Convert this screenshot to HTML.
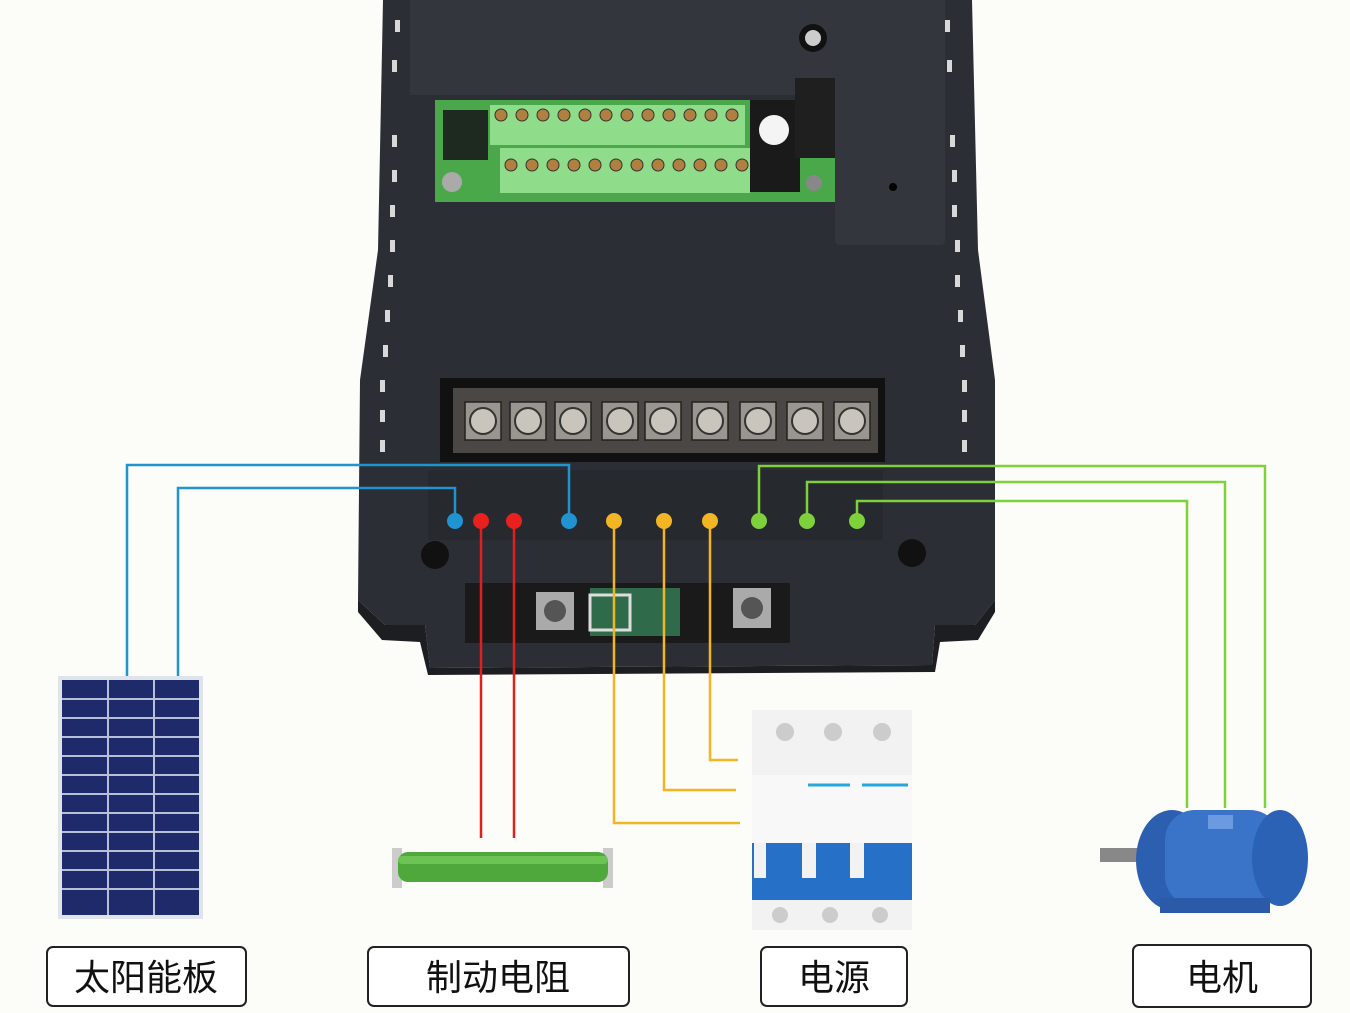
<!DOCTYPE html>
<html><head><meta charset="utf-8"><style>
html,body{margin:0;padding:0;background:#fcfcf9;}
svg{display:block}
.lbl{font-family:"Liberation Sans","Noto Sans CJK SC",sans-serif;font-size:36px;fill:#111;}
</style></head><body>
<svg width="1350" height="1013" viewBox="0 0 1350 1013" xmlns="http://www.w3.org/2000/svg">
<rect width="1350" height="1013" fill="#fcfcf9"/>
<!-- device body -->
<path d="M383 0 L972 0 L978 250 L995 380 L995 600 L975 625 L935 625 L932 665 L430 668 L425 625 L385 625 L358 600 L360 380 L378 250 Z" fill="#2b2e34"/>
<path d="M358 600 L385 625 L425 625 L430 668 L932 665 L935 625 L975 625 L995 600 L995 612 L978 640 L940 642 L935 672 L428 675 L420 642 L382 640 L358 612 Z" fill="#1c1e22"/>
<rect x="410" y="0" width="535" height="95" fill="#33363c"/>
<rect x="835" y="75" width="110" height="170" rx="4" fill="#33363c"/>
<circle cx="813" cy="38" r="14" fill="#111"/><circle cx="813" cy="38" r="8" fill="#ccc"/>
<circle cx="893" cy="187" r="4" fill="#000"/>
<!-- vents -->
<g fill="#d8d8d8">
<rect x="395" y="20" width="5" height="12"/><rect x="392" y="60" width="5" height="12"/><rect x="392" y="135" width="5" height="12"/><rect x="392" y="170" width="5" height="12"/><rect x="390" y="205" width="5" height="12"/><rect x="390" y="240" width="5" height="12"/><rect x="388" y="275" width="5" height="12"/><rect x="385" y="310" width="5" height="12"/><rect x="383" y="345" width="5" height="12"/><rect x="380" y="380" width="5" height="12"/><rect x="380" y="410" width="5" height="12"/><rect x="380" y="440" width="5" height="12"/>
<rect x="945" y="20" width="5" height="12"/><rect x="947" y="60" width="5" height="12"/><rect x="950" y="135" width="5" height="12"/><rect x="952" y="170" width="5" height="12"/><rect x="952" y="205" width="5" height="12"/><rect x="955" y="240" width="5" height="12"/><rect x="955" y="275" width="5" height="12"/><rect x="958" y="310" width="5" height="12"/><rect x="960" y="345" width="5" height="12"/><rect x="962" y="380" width="5" height="12"/><rect x="962" y="410" width="5" height="12"/><rect x="962" y="440" width="5" height="12"/>
</g>
<!-- green PCB -->
<rect x="435" y="100" width="400" height="102" fill="#4aa84a"/>
<rect x="490" y="105" width="255" height="40" fill="#8fdd8a"/>
<rect x="500" y="148" width="250" height="45" fill="#8fdd8a"/>
<g fill="#b08040" stroke="#333" stroke-width="1">
<circle cx="501" cy="115" r="6"/><circle cx="522" cy="115" r="6"/><circle cx="543" cy="115" r="6"/><circle cx="564" cy="115" r="6"/><circle cx="585" cy="115" r="6"/><circle cx="606" cy="115" r="6"/><circle cx="627" cy="115" r="6"/><circle cx="648" cy="115" r="6"/><circle cx="669" cy="115" r="6"/><circle cx="690" cy="115" r="6"/><circle cx="711" cy="115" r="6"/><circle cx="732" cy="115" r="6"/>
<circle cx="511" cy="165" r="6"/><circle cx="532" cy="165" r="6"/><circle cx="553" cy="165" r="6"/><circle cx="574" cy="165" r="6"/><circle cx="595" cy="165" r="6"/><circle cx="616" cy="165" r="6"/><circle cx="637" cy="165" r="6"/><circle cx="658" cy="165" r="6"/><circle cx="679" cy="165" r="6"/><circle cx="700" cy="165" r="6"/><circle cx="721" cy="165" r="6"/><circle cx="742" cy="165" r="6"/>
</g>
<rect x="443" y="110" width="45" height="50" fill="#1e2a20"/>
<circle cx="452" cy="182" r="10" fill="#aaa"/>
<rect x="750" y="100" width="50" height="92" fill="#1a1a1a"/>
<rect x="795" y="78" width="40" height="80" fill="#1f1f1f"/>
<circle cx="774" cy="130" r="15" fill="#f4f4f4"/>
<circle cx="814" cy="183" r="8" fill="#888"/>
<!-- power terminal block -->
<rect x="440" y="378" width="445" height="84" fill="#111"/>
<rect x="453" y="388" width="425" height="65" fill="#4a4744"/>
<g fill="#9a958e" stroke="#222" stroke-width="1.5">
<rect x="465" y="402" width="36" height="38"/><rect x="510" y="402" width="36" height="38"/><rect x="555" y="402" width="36" height="38"/><rect x="602" y="402" width="36" height="38"/><rect x="645" y="402" width="36" height="38"/><rect x="692" y="402" width="36" height="38"/><rect x="740" y="402" width="36" height="38"/><rect x="787" y="402" width="36" height="38"/><rect x="834" y="402" width="36" height="38"/>
</g>
<g fill="#c9c4bc" stroke="#333" stroke-width="2">
<circle cx="483" cy="421" r="13"/><circle cx="528" cy="421" r="13"/><circle cx="573" cy="421" r="13"/><circle cx="620" cy="421" r="13"/><circle cx="663" cy="421" r="13"/><circle cx="710" cy="421" r="13"/><circle cx="758" cy="421" r="13"/><circle cx="805" cy="421" r="13"/><circle cx="852" cy="421" r="13"/>
</g>
<rect x="428" y="470" width="455" height="70" fill="#26292e"/>
<circle cx="435" cy="555" r="14" fill="#111"/><circle cx="912" cy="553" r="14" fill="#111"/>
<!-- lower part -->
<rect x="465" y="583" width="325" height="60" fill="#1a1a1a"/>
<rect x="590" y="588" width="90" height="48" fill="#2f6a4a"/>
<rect x="536" y="592" width="38" height="38" fill="#aaa"/><circle cx="555" cy="611" r="11" fill="#555"/>
<rect x="733" y="588" width="38" height="40" fill="#aaa"/><circle cx="752" cy="608" r="11" fill="#555"/>
<rect x="590" y="595" width="40" height="35" fill="none" stroke="#ddd" stroke-width="3"/>
<!-- wires -->
<g fill="none" stroke-width="2.5">
<polyline points="569,521 569,465 127,465 127,678" stroke="#1f94d0"/>
<polyline points="455,521 455,488 178,488 178,678" stroke="#1f94d0"/>
<polyline points="481,521 481,838" stroke="#e02020"/>
<polyline points="514,521 514,838" stroke="#e02020"/>
<polyline points="614,521 614,823 740,823" stroke="#f2b624"/>
<polyline points="664,521 664,790 736,790" stroke="#f2b624"/>
<polyline points="710,521 710,760 738,760" stroke="#f2b624"/>
<polyline points="759,521 759,466 1265,466 1265,808" stroke="#7fd13b"/>
<polyline points="807,521 807,482 1225,482 1225,808" stroke="#7fd13b"/>
<polyline points="857,521 857,501 1187,501 1187,808" stroke="#7fd13b"/>
</g>
<g>
<circle cx="455" cy="521" r="8" fill="#1f94d0"/><circle cx="481" cy="521" r="8" fill="#e8201e"/><circle cx="514" cy="521" r="8" fill="#e8201e"/><circle cx="569" cy="521" r="8" fill="#1f94d0"/>
<circle cx="614" cy="521" r="8" fill="#f2b624"/><circle cx="664" cy="521" r="8" fill="#f2b624"/><circle cx="710" cy="521" r="8" fill="#f2b624"/>
<circle cx="759" cy="521" r="8" fill="#7fd13b"/><circle cx="807" cy="521" r="8" fill="#7fd13b"/><circle cx="857" cy="521" r="8" fill="#7fd13b"/>
</g>
<!-- solar panel -->
<rect x="58" y="676" width="145" height="243" fill="#dfe3ea"/>
<rect x="62" y="680" width="137" height="235" fill="#1e2a6a"/>
<g stroke="#b8c0d8" stroke-width="2">
<line x1="108" y1="680" x2="108" y2="915"/><line x1="154" y1="680" x2="154" y2="915"/>
<line x1="62" y1="699" x2="199" y2="699"/><line x1="62" y1="718" x2="199" y2="718"/><line x1="62" y1="737" x2="199" y2="737"/><line x1="62" y1="756" x2="199" y2="756"/><line x1="62" y1="775" x2="199" y2="775"/><line x1="62" y1="794" x2="199" y2="794"/><line x1="62" y1="813" x2="199" y2="813"/><line x1="62" y1="832" x2="199" y2="832"/><line x1="62" y1="851" x2="199" y2="851"/><line x1="62" y1="870" x2="199" y2="870"/><line x1="62" y1="889" x2="199" y2="889"/>
</g>
<!-- resistor -->
<rect x="392" y="848" width="10" height="40" fill="#ccc"/><rect x="603" y="848" width="10" height="40" fill="#ccc"/>
<rect x="398" y="852" width="210" height="30" rx="10" fill="#4fa83c"/>
<rect x="398" y="856" width="210" height="8" rx="4" fill="#6cc455"/>
<!-- breaker -->
<rect x="752" y="710" width="160" height="220" fill="#f2f2f2"/>
<rect x="752" y="775" width="160" height="70" fill="#f8f8f8"/>
<line x1="808" y1="785" x2="850" y2="785" stroke="#2aa6d8" stroke-width="3"/><line x1="862" y1="785" x2="908" y2="785" stroke="#2aa6d8" stroke-width="3"/>
<circle cx="785" cy="732" r="9" fill="#ccc"/><circle cx="833" cy="732" r="9" fill="#ccc"/><circle cx="882" cy="732" r="9" fill="#ccc"/>
<rect x="752" y="843" width="160" height="57" fill="#2670c8"/>
<rect x="754" y="843" width="12" height="35" fill="#f2f2f2"/><rect x="802" y="843" width="14" height="35" fill="#f2f2f2"/><rect x="850" y="843" width="14" height="35" fill="#f2f2f2"/>
<circle cx="780" cy="915" r="8" fill="#ccc"/><circle cx="830" cy="915" r="8" fill="#ccc"/><circle cx="880" cy="915" r="8" fill="#ccc"/>
<!-- motor -->
<rect x="1100" y="848" width="40" height="14" fill="#888"/>
<ellipse cx="1172" cy="860" rx="36" ry="50" fill="#2d5fb0"/>
<rect x="1165" y="810" width="115" height="96" rx="30" fill="#3a74c8"/>
<ellipse cx="1280" cy="858" rx="28" ry="48" fill="#2c62b5"/>
<rect x="1160" y="898" width="110" height="15" fill="#2a5aa8"/>
<rect x="1208" y="815" width="25" height="14" fill="#6b9ae0"/>
<!-- labels -->
<g fill="#fff" stroke="#222" stroke-width="2">
<rect x="47" y="947" width="199" height="59" rx="6"/>
<rect x="368" y="947" width="261" height="59" rx="6"/>
<rect x="761" y="947" width="146" height="59" rx="6"/>
<rect x="1133" y="945" width="178" height="62" rx="6"/>
</g>
<text class="lbl" x="146" y="990" text-anchor="middle">太阳能板</text>
<text class="lbl" x="498" y="990" text-anchor="middle">制动电阻</text>
<text class="lbl" x="834" y="990" text-anchor="middle">电源</text>
<text class="lbl" x="1222" y="990" text-anchor="middle">电机</text>
</svg>
</body></html>
